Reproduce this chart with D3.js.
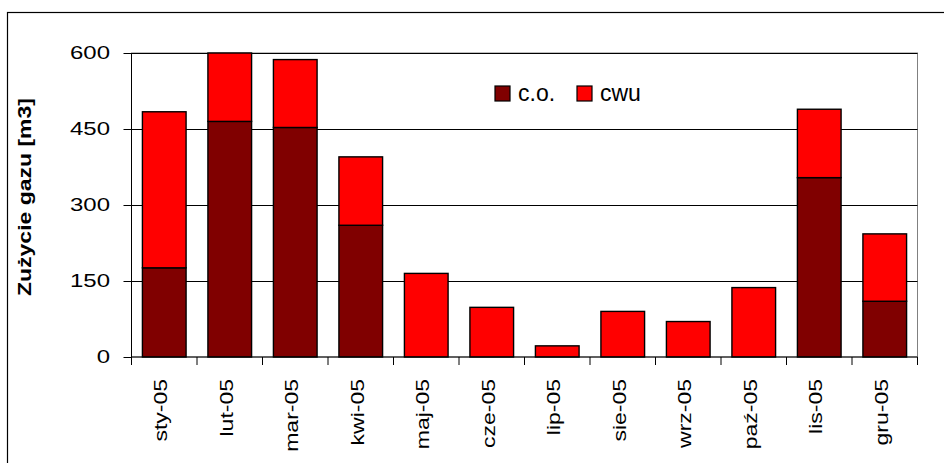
<!DOCTYPE html>
<html>
<head>
<meta charset="utf-8">
<script src="https://cdn.jsdelivr.net/npm/d3@7/dist/d3.min.js"></script>
<style>
  html, body { margin: 0; padding: 0; background: #fff; }
  svg { display: block; font-family: "Liberation Sans", Arial, sans-serif; }
</style>
</head>
<body>
<svg id="chart" width="944" height="463"></svg>
<script>
// Monthly gas consumption 2005, split into heating (c.o.) and hot water (cwu)
const months = ["sty-05", "lut-05", "mar-05", "kwi-05", "maj-05", "cze-05",
                "lip-05", "sie-05", "wrz-05", "paź-05", "lis-05", "gru-05"];
const coValues  = [176, 465, 453, 260, 0, 0, 0, 0, 0, 0, 354, 110];
const cwuValues = [308, 135, 134, 135, 165, 98, 22, 90, 70, 137, 135, 133];
const yTicks = [0, 150, 300, 450, 600];
const seriesNames = ["c.o.", "cwu"];
const seriesColors = ["#800000", "#ff0000"];
const yTitle = "Zużycie gazu [m3]";

const svg = d3.select("#chart");
const plot = { left: 131.5, right: 917.5, top: 53, bottom: 357 };

const x = d3.scaleBand().domain(months).range([plot.left, plot.right])
  .paddingInner(1 / 3).paddingOuter(1 / 6);
const band = d3.scaleBand().domain(months).range([plot.left, plot.right]);
const y = d3.scaleLinear().domain([0, 600]).range([plot.bottom, plot.top]);

// outer chart frame
svg.append("rect")
  .attr("x", 7.5).attr("y", 12.5).attr("width", 960).attr("height", 480)
  .attr("fill", "#fff").attr("stroke", "#000").attr("stroke-width", 1.2);

// plot area frame
svg.append("rect")
  .attr("x", plot.left).attr("y", plot.top)
  .attr("width", plot.right - plot.left).attr("height", plot.bottom - plot.top)
  .attr("fill", "#fff").attr("stroke", "#808080").attr("stroke-width", 1);

// horizontal gridlines
svg.append("g").selectAll("line").data(yTicks.filter(d => d > 0)).join("line")
  .attr("x1", plot.left).attr("x2", plot.right)
  .attr("y1", d => Math.round(y(d)) + 0.5).attr("y2", d => Math.round(y(d)) + 0.5)
  .attr("stroke", "#000").attr("stroke-width", 1);

// stacked bars
const stackData = months.map((m, i) => ({ month: m, co: coValues[i], cwu: cwuValues[i] }));
const stacked = d3.stack().keys(["co", "cwu"])(stackData);
svg.append("g").selectAll("g").data(stacked).join("g")
  .attr("fill", (d, i) => seriesColors[i])
  .selectAll("rect").data(d => d.filter(s => s[1] - s[0] > 0)).join("rect")
  .attr("x", d => x(d.data.month))
  .attr("width", x.bandwidth())
  .attr("y", d => y(d[1]))
  .attr("height", d => y(d[0]) - y(d[1]))
  .attr("stroke", "#000").attr("stroke-width", 1.4);

// y axis with outward ticks
const yAxis = svg.append("g")
  .attr("transform", `translate(${plot.left},0)`)
  .call(d3.axisLeft(y).tickValues(yTicks).tickSize(8).tickFormat(""));
yAxis.selectAll("path, line").attr("stroke", "#000").attr("stroke-width", 1);
yAxis.select(".domain").attr("d", `M0,${plot.top}V${plot.bottom}`);

svg.append("g").selectAll("text").data(yTicks).join("text")
  .attr("transform", d => `translate(110,${y(d) + 5.5}) scale(1,0.77)`)
  .attr("text-anchor", "end")
  .attr("font-size", 24).attr("fill", "#000")
  .text(d => d);

// x axis line and ticks between categories
svg.append("line")
  .attr("x1", plot.left).attr("x2", plot.right)
  .attr("y1", plot.bottom).attr("y2", plot.bottom)
  .attr("stroke", "#000").attr("stroke-width", 1.2);
const boundaries = months.map(m => band(m)).concat([plot.right]);
svg.append("g").selectAll("line").data(boundaries).join("line")
  .attr("x1", d => d).attr("x2", d => d)
  .attr("y1", plot.bottom).attr("y2", plot.bottom + 8)
  .attr("stroke", "#000").attr("stroke-width", 1);

svg.append("g").selectAll("text").data(months).join("text")
  .attr("transform", d => `translate(${band(d) + band.bandwidth() / 2 + 3.2},379) rotate(-90) scale(1,0.78)`)
  .attr("text-anchor", "end")
  .attr("font-size", 23).attr("fill", "#000")
  .text(d => d);

// y axis title
svg.append("text")
  .attr("transform", "translate(31,197) rotate(-90) scale(1,0.77)")
  .attr("text-anchor", "middle")
  .attr("font-size", 23).attr("font-weight", "bold").attr("fill", "#000")
  .text(yTitle);

// legend
const legendX = [495, 577];
const legend = svg.append("g").selectAll("g").data(seriesNames).join("g")
  .attr("transform", (d, i) => `translate(${legendX[i]},86)`);
legend.append("rect")
  .attr("width", 15).attr("height", 15)
  .attr("fill", (d, i) => seriesColors[i])
  .attr("stroke", "#000").attr("stroke-width", 1.2);
legend.append("text")
  .attr("x", 23).attr("y", 15)
  .attr("font-size", 23).attr("fill", "#000")
  .text(d => d);
</script>
</body>
</html>
